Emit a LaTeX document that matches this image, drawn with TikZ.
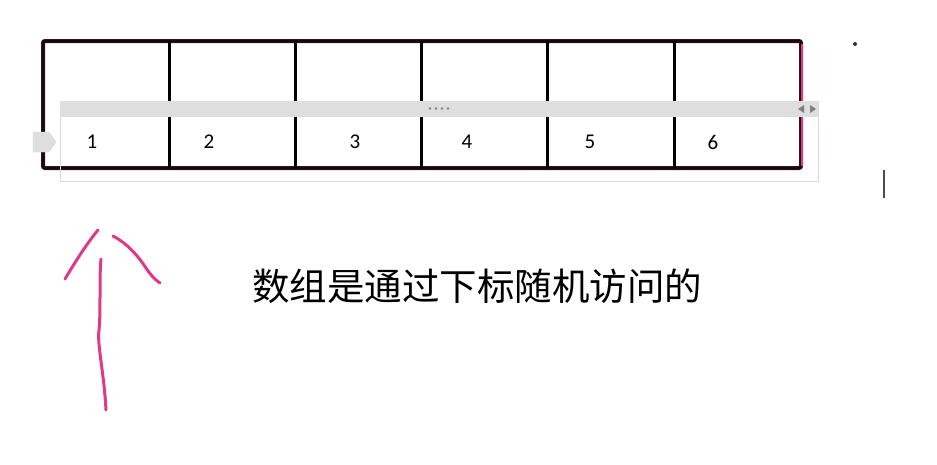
\documentclass[tikz,border=0pt]{standalone}
\usepackage{fontspec}
\setmainfont{Carlito}
\newfontfamily\cjk{Noto Sans CJK SC}
\usetikzlibrary{shapes.geometric}
\definecolor{inkpink}{HTML}{E0398A}
\definecolor{darkink}{HTML}{140A10}
\definecolor{barGray}{HTML}{DEDEDE}
\definecolor{boxGray}{HTML}{D8D8D8}
\definecolor{dotGray}{HTML}{808080}
\tikzset{
  cellline/.style={line width=3pt, draw=darkink},
  numlabel/.style={font=\fontsize{21}{25}\selectfont, text=black, inner sep=0pt},
  pinkstroke/.style={line width=3pt, draw=inkpink, line cap=round, line join=round},
}
\begin{document}
\begin{tikzpicture}[x=1pt,y=-1pt]
\useasboundingbox (0,0) rectangle (937,464);
\fill[white] (0,0) rectangle (937,464);
% outer array box
\draw[line width=4pt, draw=inkpink!35!black, rounded corners=2pt] (43,41) rectangle (801,168);
\draw[cellline, rounded corners=2pt] (43,41) rectangle (801,168);
\draw[line width=2.5pt, draw=inkpink] (802,44) -- (802,166);
\foreach \x in {169,295,421,547,674} {
  \draw[line width=3pt, draw=black] (\x,41) -- (\x,168);
}
% table overlay
\draw[draw=boxGray, line width=0.8pt] (60,101) rectangle (818,181);
\fill[barGray] (60,101) rectangle (818,117);
\foreach \x in {430,436,442,448} { \fill[dotGray] (\x,108.5) circle (1.4); }
\fill[dotGray] (798,109) -- (804,105) -- (804,113) -- cycle;
\fill[dotGray] (816,109) -- (810,105) -- (810,113) -- cycle;
\fill[barGray, draw=boxGray] (33,132) -- (49,132) -- (56,142) -- (49,152) -- (33,152) -- cycle;
% numbers
\node[numlabel] (n1) at (92,142) {1};
\node[numlabel] (n2) at (209,142) {2};
\node[numlabel] (n3) at (355,142) {3};
\node[numlabel] (n4) at (467,142) {4};
\node[numlabel] (n5) at (590,142) {5};
\node[numlabel] (n6) at (713,142) {6};
% caption
\node[font=\cjk\fontsize{37.5}{42}\selectfont, inner sep=0pt, anchor=west] (cap) at (252,286) {数组是通过下标随机访问的};
% dot and cursor
\fill[black!80] (855,44) circle (2);
\draw[line width=1.2pt, black!70] (884,170) -- (884,198);
% pink hand-drawn arrow
\draw[pinkstroke] (106,410) .. controls (104,372) and (97,345) .. (99,330) .. controls (101,310) and (99,280) .. (101,259);
\draw[pinkstroke] (65,279) .. controls (75,262) and (88,242) .. (98,230);
\draw[pinkstroke] (113,236) .. controls (128,244) and (138,256) .. (146,268) .. controls (150,274) and (155,280) .. (160,283);
\end{tikzpicture}
\end{document}
